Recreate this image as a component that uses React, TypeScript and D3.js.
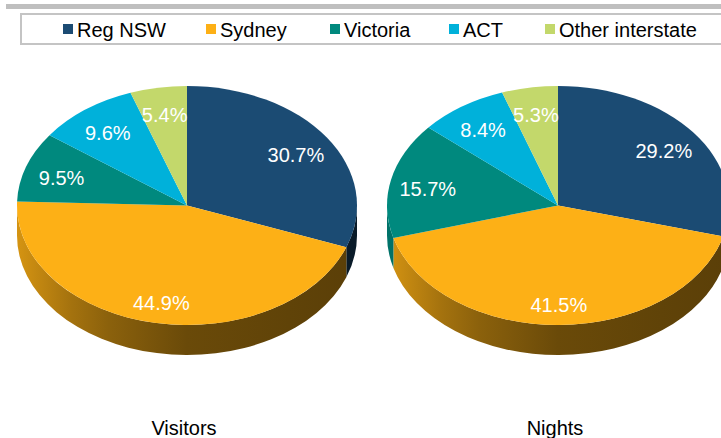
import React from "react";
import * as d3 from "d3";

const categories = ["Reg NSW", "Sydney", "Victoria", "ACT", "Other interstate"];
const colors = ["#1b4b73", "#fdb016", "#00897e", "#00b1da", "#c3d86b"];
const visitors = [30.7, 44.9, 9.5, 9.6, 5.4];
const nights = [29.2, 41.5, 15.7, 8.4, 5.3];
const pieTitles = ["Visitors", "Nights"];

const W = 721;
const H = 438;
const FONT = "Arial, 'Liberation Sans', Helvetica, sans-serif";

type PieSpec = { cx: number; rx: number; values: number[]; title: string };

const pies: PieSpec[] = [
  { cx: 187, rx: 170, values: visitors, title: pieTitles[0] },
  { cx: 558, rx: 171, values: nights, title: pieTitles[1] },
];
const CY = 205.5;
const RY = 119.5;
const DEPTH = 30;

const sideStops: [number, number][] = [
  [0, 0.84],
  [0.16, 0.65],
  [0.27, 0.55],
  [0.5, 0.42],
  [0.8, 0.38],
  [1, 0.36],
];

function shade(c: string, f: number) {
  const r = d3.rgb(c);
  return d3.rgb(r.r * f, r.g * f, r.b * f).formatHex();
}

function Pie3D({ spec, idx }: { spec: PieSpec; idx: number }) {
  const { cx, rx, values } = spec;
  const arcs = d3
    .pie<number>()
    .sort(null)
    .startAngle(0)
    .endAngle(Math.PI * 2)(values);
  const arcGen = d3.arc<d3.PieArcDatum<number>>().innerRadius(0).outerRadius(rx);
  const pt = (a: number, dy = 0) => [cx + rx * Math.sin(a), CY - RY * Math.cos(a) + dy];

  const sides: { path: string; i: number }[] = [];
  arcs.forEach((a, i) => {
    const a0 = Math.max(a.startAngle, Math.PI / 2);
    const a1 = Math.min(a.endAngle, (Math.PI * 3) / 2);
    if (a1 <= a0) return;
    const p0 = pt(a0);
    const p1 = pt(a1);
    const q1 = pt(a1, DEPTH);
    const q0 = pt(a0, DEPTH);
    const path = `M${p0[0]},${p0[1]} A${rx},${RY} 0 0 1 ${p1[0]},${p1[1]} L${q1[0]},${q1[1]} A${rx},${RY} 0 0 0 ${q0[0]},${q0[1]} Z`;
    sides.push({ path, i });
  });

  return (
    <g>
      <defs>
        {colors.map((c, i) => (
          <linearGradient
            key={i}
            id={`side-${idx}-${i}`}
            gradientUnits="userSpaceOnUse"
            x1={cx - rx}
            x2={cx + rx}
            y1={0}
            y2={0}
          >
            {sideStops.map(([o, f], k) => (
              <stop key={k} offset={o} stopColor={shade(c, f)} />
            ))}
          </linearGradient>
        ))}
      </defs>
      {sides.map((s) => (
        <path key={s.i} d={s.path} fill={`url(#side-${idx}-${s.i})`} />
      ))}
      <g transform={`translate(${cx},${CY}) scale(1,${RY / rx})`}>
        {arcs.map((a, i) => (
          <path key={i} d={arcGen(a) || ""} fill={colors[i]} />
        ))}
      </g>
      {arcs.map((a, i) => {
        const m = (a.startAngle + a.endAngle) / 2;
        const x = cx + 0.78 * rx * Math.sin(m);
        const y = CY - 0.8 * RY * Math.cos(m) + 4;
        return (
          <text
            key={i}
            x={x}
            y={y}
            fill="#ffffff"
            fontSize={20}
            fontFamily={FONT}
            textAnchor="middle"
            dominantBaseline="central"
          >
            {`${values[i].toFixed(1)}%`}
          </text>
        );
      })}
      <text
        x={cx - 3}
        y={428}
        fontSize={20}
        fontFamily={FONT}
        textAnchor="middle"
        dominantBaseline="central"
        fill="#000"
      >
        {spec.title}
      </text>
    </g>
  );
}

const legendX = [63, 206, 330, 449, 545];

export default function App() {
  return (
    <div style={{ position: "fixed", left: 0, top: 0 }}>
      <svg width={W} height={H} style={{ display: "block" }}>
        <rect x={0} y={0} width={W} height={H} fill="#ffffff" />
        <rect x={6} y={4} width={W - 6} height={5} fill="#bfbfbf" />
        <rect x={21} y={14} width={W} height={30} fill="#ffffff" stroke="#c4c4c4" strokeWidth={2} />
        {categories.map((c, i) => (
          <g key={c}>
            <rect x={legendX[i]} y={24} width={10} height={10} fill={colors[i]} />
            <text
              x={legendX[i] + 14}
              y={29.5}
              fontSize={20}
              fontFamily={FONT}
              dominantBaseline="central"
              fill="#000"
            >
              {c}
            </text>
          </g>
        ))}
        {pies.map((p, i) => (
          <Pie3D key={i} spec={p} idx={i} />
        ))}
      </svg>
    </div>
  );
}
